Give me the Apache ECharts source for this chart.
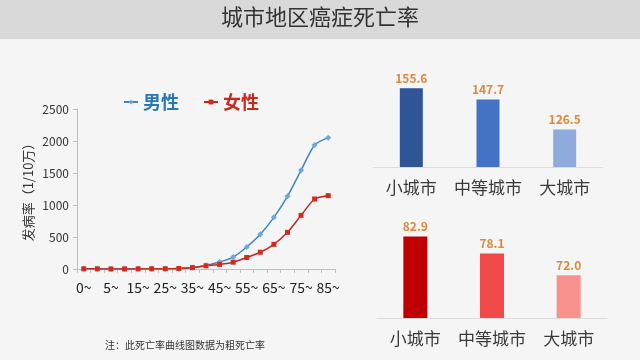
<!DOCTYPE html>
<html>
<head>
<meta charset="utf-8">
<script src="https://cdn.jsdelivr.net/npm/echarts@6/dist/echarts.min.js"></script>
<style>
html,body{margin:0;padding:0;background:#f5f5f5;}
#c{width:640px;height:360px;}
</style>
</head>
<body>
<div id="c"></div>
<script>
const ages = ['0~','1~','5~','10~','15~','20~','25~','30~','35~','40~','45~','50~','55~','60~','65~','70~','75~','80~','85~'];
const male = [4, 2, 1, 1, 2, 3, 5, 9, 22, 55, 109, 187, 344, 542, 807, 1135, 1542, 1937, 2052];
const female = [3, 2, 1, 1, 2, 3, 4, 8, 22, 50, 72, 106, 180, 262, 385, 573, 838, 1094, 1146];
const cities = ['小城市','中等城市','大城市'];
const maleCity = [155.6, 147.7, 126.5];
const femaleCity = [82.9, 78.1, 72.0];

const FONT = '"Noto Sans CJK SC", "Noto Sans", sans-serif';
const chart = echarts.init(document.getElementById('c'), null, {renderer:'canvas'});
const catLabel = {fontSize:17, color:'#3a3a3a', fontFamily:FONT, margin:12, interval:0, hideOverlap:false};
const barLabel = {show:true, position:'top', distance:4, fontSize:12, fontWeight:'bold', color:'#e0883a', fontFamily:FONT, formatter: p => p.value.toFixed(1)};

chart.setOption({
  backgroundColor:'#f5f5f5',
  textStyle:{fontFamily:FONT},
  graphic:[
    {type:'rect', left:0, top:0, shape:{width:640, height:39}, style:{fill:'#d9d9d9'}, z:-1},
    {type:'text', left:'center', top:6, style:{text:'城市地区癌症死亡率', fontSize:22, fill:'#333', fontFamily:FONT}},
    {type:'text', left:105, top:340, style:{text:'注：此死亡率曲线图数据为粗死亡率', fontSize:10, fill:'#333', fontFamily:FONT}}
  ],
  legend:{
    left:118, top:88, itemWidth:14, itemHeight:6, itemGap:24,
    textStyle:{fontSize:18, fontWeight:'bold', fontFamily:FONT},
    data:[{name:'男性', textStyle:{color:'#2878b4'}},{name:'女性', textStyle:{color:'#c8281e'}}]
  },
  grid:[
    {left:77, top:109, width:258, height:160},
    {left:373, top:82, width:230, height:85},
    {left:377, top:229, width:230, height:89}
  ],
  xAxis:[
    {type:'category', gridIndex:0, data:ages, boundaryGap:true,
     axisLine:{lineStyle:{color:'#bfbfbf'}},
     axisTick:{show:true, interval:0, length:4, lineStyle:{color:'#bfbfbf'}},
     axisLabel:{interval:1, fontSize:14, color:'#222', margin:12, fontFamily:FONT}},
    {type:'category', gridIndex:1, data:cities, axisLine:{lineStyle:{color:'#dcdcdc'}}, axisTick:{show:false}, axisLabel:catLabel},
    {type:'category', gridIndex:2, data:cities, axisLine:{lineStyle:{color:'#dcdcdc'}}, axisTick:{show:false}, axisLabel:catLabel}
  ],
  yAxis:[
    {type:'value', gridIndex:0, min:0, max:2500, interval:500,
     name:'发病率（1/10万）', nameLocation:'middle', nameGap:42,
     nameTextStyle:{fontSize:13, color:'#333', fontFamily:FONT},
     axisLine:{show:true, lineStyle:{color:'#bfbfbf'}},
     axisTick:{show:true, length:4, lineStyle:{color:'#bfbfbf'}},
     splitLine:{show:false},
     axisLabel:{fontSize:12, color:'#333', margin:8, formatter: v => String(v)}},
    {type:'value', gridIndex:1, min:100, max:160, show:false, splitLine:{show:false}},
    {type:'value', gridIndex:2, min:60, max:85, show:false, splitLine:{show:false}}
  ],
  series:[
    {name:'男性', type:'line', xAxisIndex:0, yAxisIndex:0, data:male, smooth:0.25,
     symbol:'diamond', symbolSize:6, lineStyle:{color:'#3c86c0', width:1.5},
     itemStyle:{color:'#6fa8d8'}},
    {name:'女性', type:'line', xAxisIndex:0, yAxisIndex:0, data:female, smooth:0.25,
     symbol:'rect', symbolSize:5, lineStyle:{color:'#c0281e', width:1.5},
     itemStyle:{color:'#d42a1e'}},
    {name:'m', type:'bar', xAxisIndex:1, yAxisIndex:1, barWidth:23, label:barLabel,
     data:maleCity.map((v,i)=>({value:v, itemStyle:{color:['#2f5597','#4472c4','#8faadc'][i]}}))},
    {name:'f', type:'bar', xAxisIndex:2, yAxisIndex:2, barWidth:24, label:barLabel,
     data:femaleCity.map((v,i)=>({value:v, itemStyle:{color:['#c00000','#f04a4a','#f7938c'][i]}}))}
  ]
});
</script>
</body>
</html>
